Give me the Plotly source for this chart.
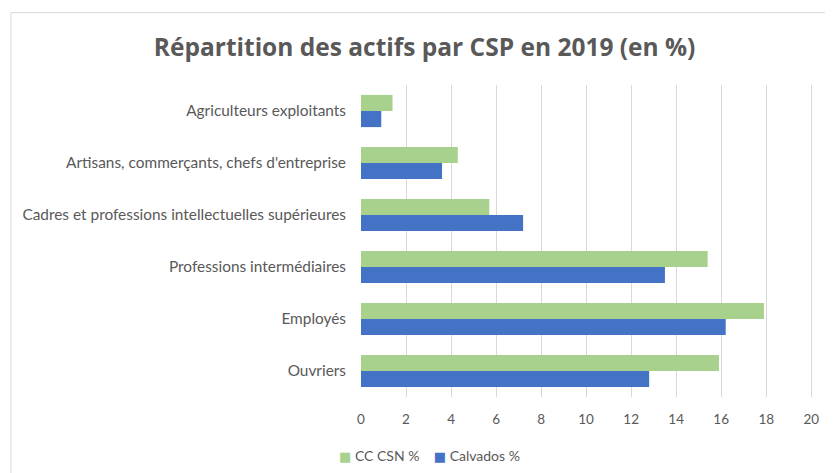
import plotly.graph_objects as go

# Catégories socio-professionnelles (du haut vers le bas)
categories = [
    "Agriculteurs exploitants",
    "Artisans, commerçants, chefs d'entreprise",
    "Cadres et professions intellectuelles supérieures",
    "Professions intermédiaires",
    "Employés",
    "Ouvriers",
]
cc_csn = [1.4, 4.3, 5.7, 15.4, 17.9, 15.9]
calvados = [0.9, 3.6, 7.2, 13.5, 16.2, 12.8]
x_ticks = [0, 2, 4, 6, 8, 10, 12, 14, 16, 18, 20]
series_names = ["CC CSN %", "Calvados %"]

GREEN = "#A9D18E"
BLUE = "#4472C4"
TEXT = "#595959"

fig = go.Figure()
fig.add_trace(go.Bar(
    y=categories, x=cc_csn, name=series_names[0], orientation="h",
    marker=dict(color=GREEN, line=dict(width=0)),
))
fig.add_trace(go.Bar(
    y=categories, x=calvados, name=series_names[1], orientation="h",
    marker=dict(color=BLUE, line=dict(width=0)),
))

# légende façon Excel : petits carrés collés au texte
legend_txt = (
    f"<span style='color:{GREEN};font-family:DejaVu Sans;font-size:13px'>■</span>"
    f" {series_names[0]}    "
    f"<span style='color:{BLUE};font-family:DejaVu Sans;font-size:13px'>■</span>"
    f" {series_names[1]}"
)

fig.update_layout(
    width=825, height=465,
    margin=dict(l=353, r=15, t=77, b=76, autoexpand=False),
    paper_bgcolor="white", plot_bgcolor="white",
    barmode="group", bargap=0.38, bargroupgap=0.0,
    title=dict(
        text="Répartition des actifs par CSP en 2019 (en %)",
        x=0.505, xanchor="center", y=0.916, yanchor="middle",
        font=dict(family="Open Sans", size=24.5, color=TEXT, weight="bold"),
    ),
    font=dict(family="Lato", size=13, color=TEXT),
    showlegend=False,
    annotations=[dict(
        text=legend_txt, xref="paper", yref="paper",
        x=-0.052, y=-0.188, xanchor="left", yanchor="middle",
        showarrow=False, font=dict(family="Lato", size=14, color=TEXT),
    )],
    shapes=[dict(
        type="rect", xref="paper", yref="paper",
        x0=-0.766, x1=1.2, y0=-0.4, y1=1.232,
        line=dict(color="#D9D9D9", width=1), layer="below",
    )],
)
fig.update_xaxes(
    range=[0, 20.3], tickvals=x_ticks, showgrid=True, gridcolor="#D9D9D9",
    gridwidth=1, zeroline=False, showline=False, ticks="",
    ticklabelstandoff=12,
    tickfont=dict(family="Lato", size=13.5, color=TEXT), automargin=False,
)
fig.update_yaxes(
    autorange="reversed", showgrid=False, showline=False, ticks="",
    ticklabelstandoff=14, tickfont=dict(family="Lato", size=15.4, color=TEXT),
    automargin=False,
)

fig.write_html("out.html")
